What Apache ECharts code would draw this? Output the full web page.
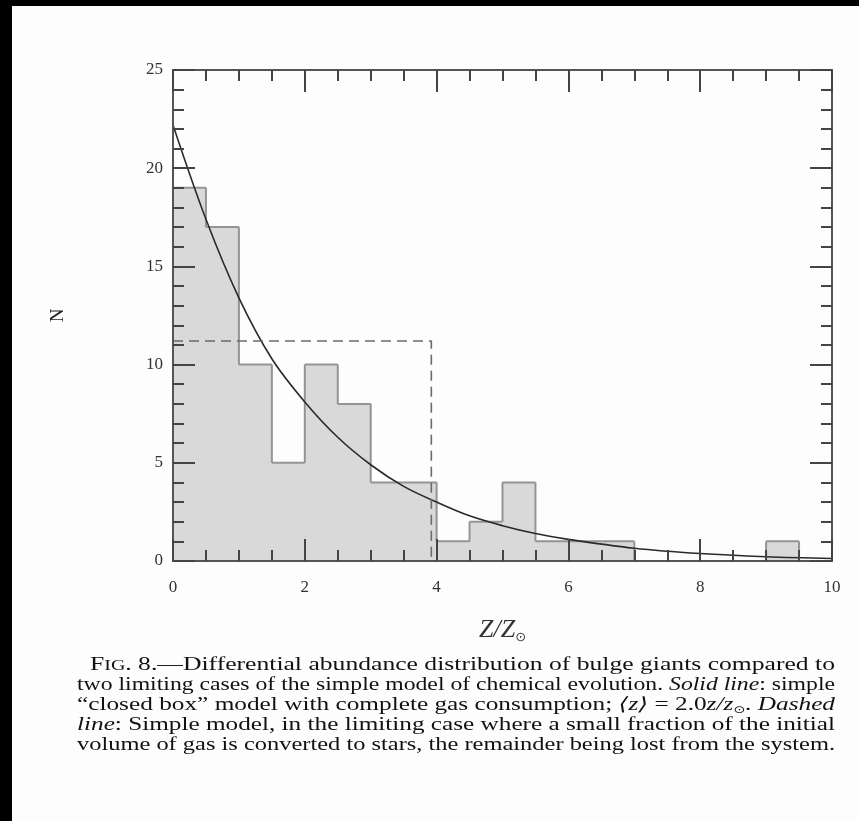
<!DOCTYPE html>
<html><head><meta charset="utf-8">
<script src="https://cdn.jsdelivr.net/npm/echarts@6/dist/echarts.min.js"></script>
<style>html,body{margin:0;padding:0;background:#000;} #c{width:859px;height:821px;}</style>
</head><body><div id="c"></div>
<script>
// ---- data ----
const binStart  = [0, 0.5, 1, 1.5, 2, 2.5, 3, 3.5, 4, 4.5, 5, 5.5, 6, 6.5, 7, 7.5, 8, 8.5, 9, 9.5];
const binCounts = [19, 17, 10, 5, 10, 8, 4, 4, 1, 2, 4, 1, 1, 1, 0, 0, 0, 0, 1, 0];
const binWidth = 0.5;
const curveZ = [0, 0.5, 1, 1.5, 2, 2.5, 3, 3.5, 4, 4.5, 5, 5.5, 6, 7, 8, 9, 10];
const curveN = [22.2, 17.4, 13.4, 10.3, 8.1, 6.3, 4.9, 3.8, 3.0, 2.3, 1.8, 1.4, 1.1, 0.65, 0.38, 0.22, 0.13];
const dashedZ = [0, 3.92, 3.92];
const dashedN = [11.2, 11.2, 0];
const xTickLabels = ['0', '2', '4', '6', '8', '10'];
const yTickLabels = ['0', '5', '10', '15', '20', '25'];

const captionLines = [
  [['F','n'],['IG','sc'],['. 8.—Differential abundance distribution of bulge giants compared to','n']],
  [['two limiting cases of the simple model of chemical evolution. ','n'],['Solid line','i'],[': simple','n']],
  [['“closed box” model with complete gas consumption; ','n'],['⟨z⟩','i'],[' = 2.0','n'],['z/z','i'],['⊙','s'],['. ','n'],['Dashed','i']],
  [['line','i'],[': Simple model, in the limiting case where a small fraction of the initial','n']],
  [['volume of gas is converted to stars, the remainder being lost from the system.','n']]
];

// ---- build ----
const chart = echarts.init(document.getElementById('c'));
const SERIF = '"Liberation Serif", "DejaVu Serif", serif';
const fonts = {
  n: '18px ' + SERIF,
  i: 'italic 18px ' + SERIF,
  sc: '14px ' + SERIF,
  s: '10px "DejaVu Sans", sans-serif'
};
const cv = document.createElement('canvas').getContext('2d');
function w(text, f){ cv.font = fonts[f]; return cv.measureText(text).width; }

const lineX = [90, 77, 77, 77, 77];
const lineR = 835;
const lineY0 = 665, lineDY = 20;
const captionGraphics = captionLines.map((segs, li) => {
  let off = 0;
  const children = segs.map(([t, f]) => {
    const el = {type:'text', x: off, y: (f === 's' ? 5 : (f === 'sc' ? 1 : 0)),
      style:{text:t, font:fonts[f], fill:'#111', align:'left', verticalAlign:'middle'}};
    off += w(t, f);
    return el;
  });
  const target = lineR - lineX[li];
  return {type:'group', x: lineX[li], y: lineY0 + li*lineDY, scaleX: target/off, children};
});

const histData = binStart.map((s, i) => [s, s + binWidth, binCounts[i]]);

const tickStyle = {color:'#444', width:2};
function xAx(pos, labels){
  return {type:'value', min:0, max:10, interval:2, position:pos, z:10,
    axisLine:{show:true, onZero:false, lineStyle:{color:'#555', width:2}},
    axisTick:{show:true, inside:true, length:22, lineStyle:tickStyle},
    minorTick:{show:true, splitNumber:4, length:11, lineStyle:tickStyle},
    splitLine:{show:false}, minorSplitLine:{show:false},
    axisLabel:{show:labels, margin:18, fontFamily:SERIF, fontSize:17, color:'#333',
      formatter: v => xTickLabels[Math.round(v/2)]}};
}
function yAx(pos, labels){
  return {type:'value', min:0, max:25, interval:5, position:pos, z:10,
    axisLine:{show:true, onZero:false, lineStyle:{color:'#555', width:2}},
    axisTick:{show:true, inside:true, length:22, lineStyle:tickStyle},
    minorTick:{show:true, splitNumber:5, length:11, lineStyle:tickStyle},
    splitLine:{show:false}, minorSplitLine:{show:false},
    axisLabel:{show:labels, margin:10, fontFamily:SERIF, fontSize:17, color:'#333',
      formatter: v => yTickLabels[Math.round(v/5)]}};
}
const xb = xAx('bottom', true);
xb.name = '{a|Z/Z}{s|⊙}';
xb.nameLocation = 'middle';
xb.nameGap = 56;
xb.nameTextStyle = {rich:{a:{fontFamily:SERIF, fontStyle:'italic', fontSize:26, color:'#333'},
  s:{fontFamily:'"DejaVu Sans", sans-serif', fontSize:13, color:'#333', padding:[14,0,0,0]}}};
const yl = yAx('left', true);
yl.name = 'N';
yl.nameLocation = 'middle';
yl.nameGap = 105;
yl.nameTextStyle = {fontFamily:SERIF, fontSize:19, color:'#222'};

chart.setOption({
  backgroundColor:'#fcfdfc',
  animation:false,
  grid:{left:173, top:70, width:659, height:491, containLabel:false},
  xAxis:[xb, xAx('top', false)],
  yAxis:[yl, yAx('right', false)],
  graphic:[
    {type:'rect', shape:{x:0, y:0, width:859, height:6}, style:{fill:'#000'}},
    {type:'rect', shape:{x:0, y:0, width:12, height:821}, style:{fill:'#000'}}
  ].concat(captionGraphics),
  series:[
    {type:'custom', xAxisIndex:0, yAxisIndex:0, data:histData, encode:{x:[0,1], y:2}, z:1,
      renderItem:(params, api) => {
        const i = params.dataIndex;
        const n = api.value(2);
        if (!n) return null;
        const prev = i > 0 ? binCounts[i-1] : 0;
        const next = i < binCounts.length - 1 ? binCounts[i+1] : 0;
        const x0 = api.value(0), x1 = api.value(1);
        const p0 = api.coord([x0, n]);
        const p1 = api.coord([x1, 0]);
        const edge = {stroke:'#949494', lineWidth:2};
        const children = [
          {type:'rect', shape:{x:p0[0], y:p0[1], width:p1[0]-p0[0], height:p1[1]-p0[1]},
            style:{fill:'#d9d9d9', stroke:'#d9d9d9', lineWidth:1}},
          {type:'line', shape:{x1:p0[0], y1:p0[1], x2:p1[0], y2:p0[1]}, style:edge, z2:5}
        ];
        if (prev < n) {
          const q = api.coord([x0, prev]);
          children.push({type:'line', shape:{x1:p0[0], y1:p0[1], x2:p0[0], y2:q[1]}, style:edge, z2:5});
        }
        if (next < n) {
          const q = api.coord([x1, next]);
          children.push({type:'line', shape:{x1:p1[0], y1:p0[1], x2:p1[0], y2:q[1]}, style:edge, z2:5});
        }
        return {type:'group', children};
      }},
    {type:'line', xAxisIndex:0, yAxisIndex:0, z:3, smooth:0.35, showSymbol:false,
      data: curveZ.map((z, i) => [z, curveN[i]]),
      lineStyle:{color:'#2a2a2a', width:1.6}},
    {type:'line', xAxisIndex:0, yAxisIndex:0, z:3, showSymbol:false,
      data: dashedZ.map((z, i) => [z, dashedN[i]]),
      lineStyle:{color:'#6a6a6a', width:1.6, type:[10,6]}}
  ]
});
</script></body></html>
